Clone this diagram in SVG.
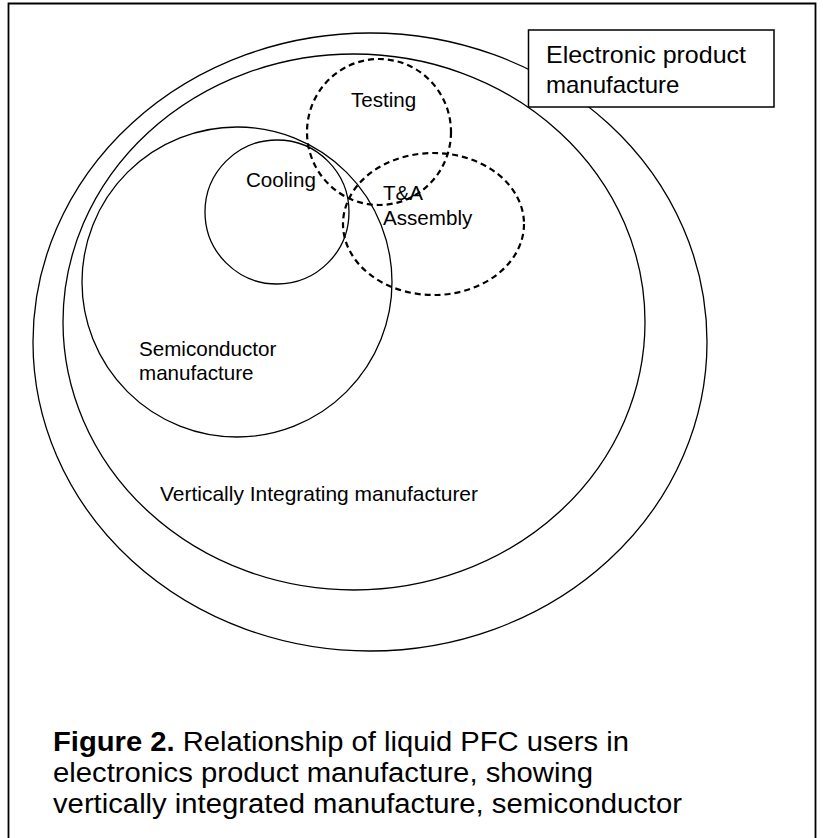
<svg xmlns="http://www.w3.org/2000/svg" width="823" height="838" viewBox="0 0 823 838">
<style>
.s{fill:none;stroke:#000;stroke-width:1.3}
.d{fill:none;stroke:#000;stroke-width:2.2;stroke-dasharray:6 4}
.t{font-family:"Liberation Sans",Arial,sans-serif;font-size:20.6px;fill:#000}
.c{font-family:"Liberation Sans",Arial,sans-serif;font-size:27px;fill:#000}
</style>
<rect width="823" height="838" fill="#fff"/>
<path id="frame" d="M8.5 845 V3.5 H815.5 V845" fill="none" stroke="#000" stroke-width="1.8"/>
<g id="electronic-product-manufacture"><ellipse class="s" cx="370" cy="342" rx="337" ry="309"/></g>
<g id="vertically-integrating"><ellipse class="s" cx="354" cy="322" rx="291" ry="268"/>
<text class="t" x="160" y="501" textLength="318" lengthAdjust="spacingAndGlyphs">Vertically Integrating manufacturer</text></g>
<g id="semiconductor"><circle class="s" cx="237" cy="282" r="155"/>
<text class="t" x="139" y="356">Semiconductor</text><text class="t" x="139" y="380">manufacture</text></g>
<g id="cooling"><circle class="s" cx="277" cy="212" r="72"/>
<text class="t" x="246" y="187">Cooling</text></g>
<g id="testing"><ellipse class="d" cx="379" cy="132" rx="72" ry="73"/>
<text class="t" x="351" y="107">Testing</text></g>
<g id="ta-assembly"><ellipse class="d" cx="433.5" cy="224" rx="90.5" ry="71"/>
<text class="t" x="383" y="200">T&amp;A</text><text class="t" x="383" y="225">Assembly</text></g>
<g id="label-box"><rect x="528.5" y="30" width="245.5" height="77" fill="#fff" stroke="#000" stroke-width="1.5"/>
<text class="t" style="font-size:24px" x="546" y="63" textLength="200" lengthAdjust="spacingAndGlyphs">Electronic product</text>
<text class="t" style="font-size:24px" x="546" y="93">manufacture</text></g>
<g id="connectors"/>
<g id="caption">
<text class="c" x="53" y="751" textLength="576" lengthAdjust="spacingAndGlyphs"><tspan font-weight="bold">Figure 2.</tspan> Relationship of liquid PFC users in</text>
<text class="c" x="53" y="782" textLength="540" lengthAdjust="spacingAndGlyphs">electronics product manufacture, showing</text>
<text class="c" x="53" y="813" textLength="629" lengthAdjust="spacingAndGlyphs">vertically integrated manufacture, semiconductor</text>
</g>
</svg>
